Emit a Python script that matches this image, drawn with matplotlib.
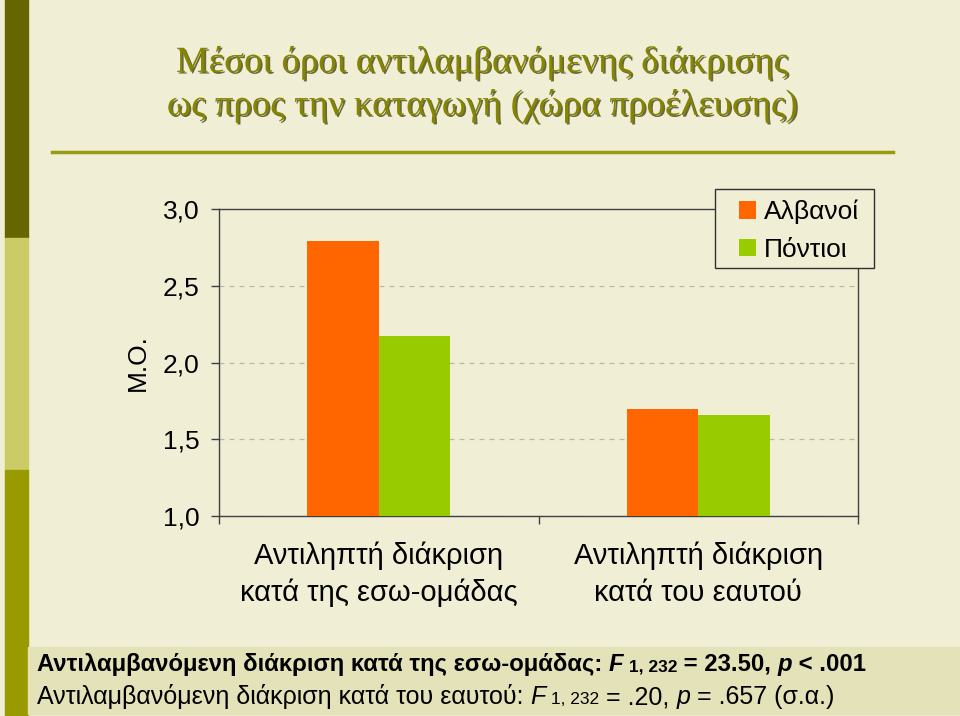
import matplotlib
matplotlib.use("Agg")
import matplotlib.pyplot as plt
import matplotlib.patheffects as pe
from matplotlib.patches import Rectangle
from matplotlib.lines import Line2D

# data
categories = ["Αντιληπτή διάκριση\nκατά της εσω-ομάδας",
              "Αντιληπτή διάκριση\nκατά του εαυτού"]
series_names = ["Αλβανοί", "Πόντιοι"]
albanians = [2.79, 1.70]
pontians = [2.17, 1.66]
y_ticks = [1.0, 1.5, 2.0, 2.5, 3.0]
y_tick_labels = ["1,0", "1,5", "2,0", "2,5", "3,0"]

title_lines = "Μέσοι όροι αντιλαμβανόμενης διάκρισης\nως προς την καταγωγή (χώρα προέλευσης)"

BG = "#F0EFD6"
ORANGE = "#FF6600"
GREEN = "#99CC00"
SANS = ["Liberation Sans", "DejaVu Sans"]

fig = plt.figure(figsize=(9.6, 7.16), dpi=100, facecolor=BG)
W, H = 960, 716

# left decorative bands
for y0, y1, c in [(0, 238, "#666600"), (238, 470, "#CCCC66"), (470, 716, "#999900")]:
    fig.patches.append(Rectangle((5 / W, 1 - y1 / H), 23 / W, (y1 - y0) / H,
                                 transform=fig.transFigure, color=c, zorder=0))

# bottom note box
fig.patches.append(Rectangle((28 / W, 1 - 714 / H), (W - 28) / W, 67 / H,
                             transform=fig.transFigure, color="#E3E2B8", zorder=0))

# title + rule
fig.text(482 / W, 1 - 84 / H, title_lines, ha="center", va="center",
         fontsize=26.5, family="Liberation Serif", color="#858500", linespacing=1.3,
         path_effects=[pe.withSimplePatchShadow(offset=(1.2, -1.2),
                                                shadow_rgbFace="#303000", alpha=0.7)])
fig.lines.append(Line2D([52 / W, 893 / W], [1 - 152 / H] * 2, transform=fig.transFigure,
                        color="#9A9A10", lw=2.5))

ax = fig.add_axes([219 / W, 1 - 516 / H, 639 / W, 307 / H])
ax.set_facecolor("none")
bw = 0.224
xs = range(len(categories))
base = 1.0
ax.bar([x - bw / 2 for x in xs], [v - base for v in albanians], bw, bottom=base,
       color=ORANGE, label=series_names[0], zorder=3)
ax.bar([x + bw / 2 for x in xs], [v - base for v in pontians], bw, bottom=base,
       color=GREEN, label=series_names[1], zorder=3)
ax.set_ylim(1.0, 3.0)
ax.set_xlim(-0.5, 1.5)

ax.set_yticks(y_ticks)
ax.set_yticklabels(y_tick_labels, fontsize=19, family=SANS)
ax.set_xticks([-0.5, 0.5, 1.5])
ax.set_xticklabels([])
ax.set_xticks(list(xs), minor=True)
ax.set_xticklabels(categories, minor=True, fontsize=21, family=SANS, linespacing=1.42)
ax.tick_params(axis="x", which="minor", length=0, pad=18)
ax.tick_params(axis="both", which="major", direction="out", length=6, width=1,
               color="#404040", pad=8)
ax.yaxis.grid(True, ls=(0, (4, 4)), color="#B8B8A8", lw=0.9, zorder=1)
for s in ax.spines.values():
    s.set_color("#404040")
    s.set_linewidth(1)

ax.set_ylabel("Μ.Ο.", fontsize=19, family=SANS, labelpad=9)

# legend box drawn over the top-right corner, entries on top of it
ax.add_patch(Rectangle((715 / W, 1 - 268 / H), 159 / W, 79 / H, transform=fig.transFigure,
                       facecolor=BG, edgecolor="#303030", lw=1, clip_on=False, zorder=4))
leg = ax.legend(loc="upper left", bbox_to_anchor=(739 / W, 1 - 200 / H),
                bbox_transform=fig.transFigure, prop={"family": SANS, "size": 19},
                frameon=False, handlelength=0.65, handleheight=0.65, handletextpad=0.3,
                labelspacing=0.5, borderpad=0, borderaxespad=0)
leg.set_zorder(5)

# bottom notes, built run by run
renderer = fig.canvas.get_renderer()


def draw_runs(x, y, runs):
    for txt, kw in runs:
        t = fig.text(x, y, txt, va="baseline", **kw)
        bb = t.get_window_extent(renderer)
        x = bb.x1 / W


bold = dict(family=SANS, fontsize=17.2, weight="bold")
bold_i = dict(bold, style="italic")
bold_s = dict(bold, fontsize=12.5)
norm = dict(family=SANS, fontsize=18)
norm_i = dict(norm, style="italic")
norm_s = dict(norm, fontsize=12.5)

draw_runs(37 / W, 1 - 671 / H, [
    ("Αντιλαμβανόμενη διάκριση κατά της εσω-ομάδας: ", bold),
    ("F", bold_i), (" 1, 232", bold_s), (" = 23.50, ", bold),
    ("p", bold_i), (" < .001", bold)])
draw_runs(37 / W, 1 - 704 / H, [
    ("Αντιλαμβανόμενη διάκριση κατά του εαυτού: ", norm),
    ("F", norm_i), (" 1, 232", norm_s), (" = .20, ", norm),
    ("p", norm_i), (" = .657 (σ.α.)", norm)])

fig.savefig("out.png", dpi=100, facecolor=BG)
